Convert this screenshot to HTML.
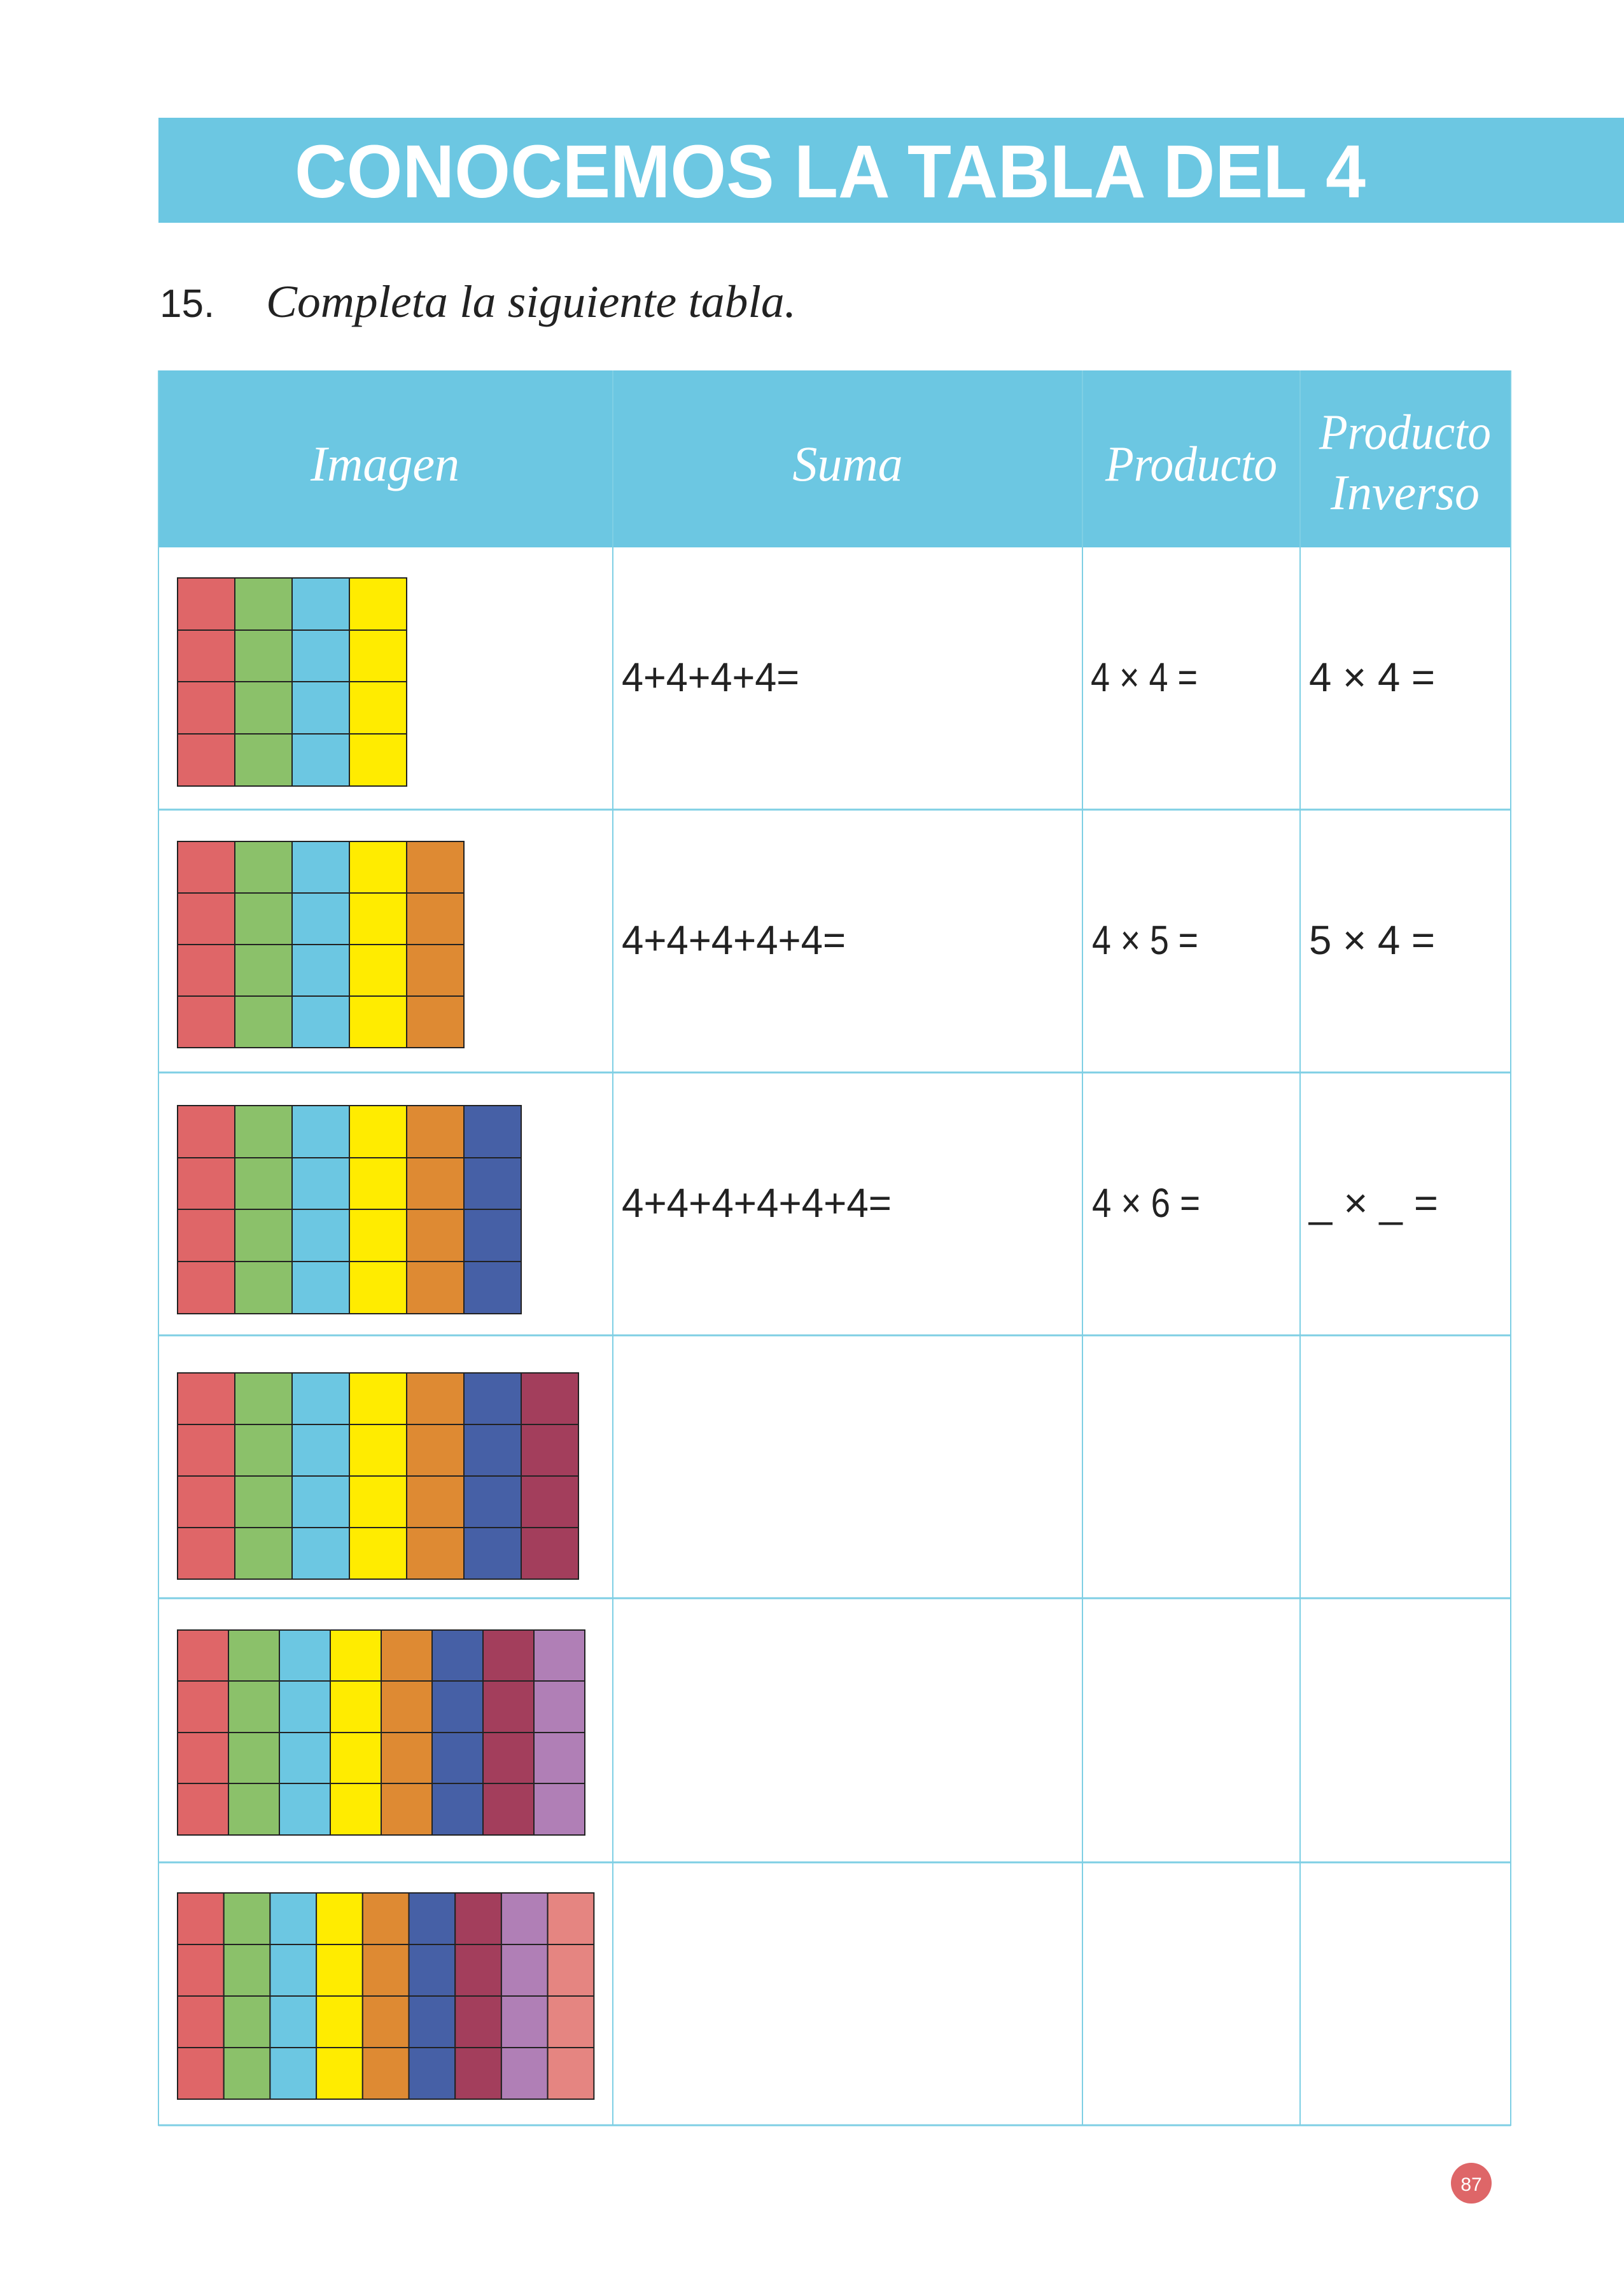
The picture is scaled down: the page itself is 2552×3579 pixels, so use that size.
<!DOCTYPE html>
<html><head><meta charset="utf-8"><style>html,body{margin:0;padding:0;background:#fff}svg{display:block}</style></head>
<body>
<svg xmlns="http://www.w3.org/2000/svg" width="2552" height="3579" viewBox="0 0 2552 3579">
<rect width="2552" height="3579" fill="#fff"/>
<rect x="249" y="185" width="2303" height="165" fill="#6cc7e2"/>
<text x="463" y="310" font-family="Liberation Sans, sans-serif" font-weight="bold" font-size="118" fill="#fff" textLength="1683" lengthAdjust="spacingAndGlyphs">CONOCEMOS LA TABLA DEL 4</text>
<text x="251" y="498" font-family="Liberation Sans, sans-serif" font-size="62" fill="#222">15.</text>
<text x="418" y="498" font-family="Liberation Serif, serif" font-style="italic" font-size="72" fill="#222" textLength="833" lengthAdjust="spacingAndGlyphs">Completa la siguiente tabla.</text>
<rect x="249" y="582" width="2125" height="278" fill="#6cc7e2"/>
<g font-family="Liberation Serif, serif" font-style="italic" font-size="78" fill="#fff" text-anchor="middle">
<text x="605" y="755">Imagen</text>
<text x="1332" y="755">Suma</text>
<text x="1872" y="755" textLength="270" lengthAdjust="spacingAndGlyphs">Producto</text>
<text x="2208" y="705" textLength="270" lengthAdjust="spacingAndGlyphs">Producto</text>
<text x="2208" y="800">Inverso</text>
</g>
<g stroke="#7fcfe4" fill="none">
<line x1="963" y1="582" x2="963" y2="3340" stroke-width="2"/>
<line x1="1701" y1="582" x2="1701" y2="3340" stroke-width="2"/>
<line x1="2043" y1="582" x2="2043" y2="3340" stroke-width="2"/>
<line x1="249" y1="582" x2="249" y2="3340" stroke-width="2"/>
<line x1="2374" y1="582" x2="2374" y2="3340" stroke-width="2"/>
<line x1="249" y1="1272" x2="2374" y2="1272" stroke-width="3"/>
<line x1="249" y1="1685" x2="2374" y2="1685" stroke-width="3"/>
<line x1="249" y1="2098" x2="2374" y2="2098" stroke-width="3"/>
<line x1="249" y1="2511" x2="2374" y2="2511" stroke-width="3"/>
<line x1="249" y1="2926" x2="2374" y2="2926" stroke-width="3"/>
<line x1="249" y1="3339" x2="2374" y2="3339" stroke-width="3"/>
</g>
<g font-family="Liberation Sans, sans-serif" font-size="64" fill="#222">
<text x="977" y="1086" textLength="279" lengthAdjust="spacingAndGlyphs">4+4+4+4=</text>
<text x="1714" y="1086" textLength="168" lengthAdjust="spacingAndGlyphs">4 × 4 =</text>
<text x="2057" y="1086" textLength="198" lengthAdjust="spacingAndGlyphs">4 × 4 =</text>
<text x="977" y="1499" textLength="352" lengthAdjust="spacingAndGlyphs">4+4+4+4+4=</text>
<text x="1716" y="1499" textLength="167" lengthAdjust="spacingAndGlyphs">4 × 5 =</text>
<text x="2057" y="1499" textLength="198" lengthAdjust="spacingAndGlyphs">5 × 4 =</text>
<text x="977" y="1912" textLength="424" lengthAdjust="spacingAndGlyphs">4+4+4+4+4+4=</text>
<text x="1716" y="1912" textLength="170" lengthAdjust="spacingAndGlyphs">4 × 6 =</text>
<text x="2057" y="1912" textLength="203" lengthAdjust="spacingAndGlyphs">_ × _ =</text>
</g>
<g stroke="#222" stroke-width="2">
<g transform="translate(279,908)">
<rect x="0" y="0" width="90" height="327" fill="#df6668"/><rect x="90" y="0" width="90" height="327" fill="#8bc16a"/><rect x="180" y="0" width="90" height="327" fill="#6cc7e2"/><rect x="270" y="0" width="90" height="327" fill="#ffec00"/>
<line x1="0" y1="82" x2="360" y2="82"/><line x1="0" y1="163" x2="360" y2="163"/><line x1="0" y1="245" x2="360" y2="245"/>
</g>
<g transform="translate(279,1322)">
<rect x="0" y="0" width="90" height="324" fill="#df6668"/><rect x="90" y="0" width="90" height="324" fill="#8bc16a"/><rect x="180" y="0" width="90" height="324" fill="#6cc7e2"/><rect x="270" y="0" width="90" height="324" fill="#ffec00"/><rect x="360" y="0" width="90" height="324" fill="#de8a33"/>
<line x1="0" y1="81" x2="450" y2="81"/><line x1="0" y1="162" x2="450" y2="162"/><line x1="0" y1="243" x2="450" y2="243"/>
</g>
<g transform="translate(279,1737)">
<rect x="0" y="0" width="90" height="327" fill="#df6668"/><rect x="90" y="0" width="90" height="327" fill="#8bc16a"/><rect x="180" y="0" width="90" height="327" fill="#6cc7e2"/><rect x="270" y="0" width="90" height="327" fill="#ffec00"/><rect x="360" y="0" width="90" height="327" fill="#de8a33"/><rect x="450" y="0" width="90" height="327" fill="#4660a6"/>
<line x1="0" y1="82" x2="540" y2="82"/><line x1="0" y1="163" x2="540" y2="163"/><line x1="0" y1="245" x2="540" y2="245"/>
</g>
<g transform="translate(279,2157)">
<rect x="0" y="0" width="90" height="324" fill="#df6668"/><rect x="90" y="0" width="90" height="324" fill="#8bc16a"/><rect x="180" y="0" width="90" height="324" fill="#6cc7e2"/><rect x="270" y="0" width="90" height="324" fill="#ffec00"/><rect x="360" y="0" width="90" height="324" fill="#de8a33"/><rect x="450" y="0" width="90" height="324" fill="#4660a6"/><rect x="540" y="0" width="90" height="324" fill="#a33e5c"/>
<line x1="0" y1="81" x2="630" y2="81"/><line x1="0" y1="162" x2="630" y2="162"/><line x1="0" y1="243" x2="630" y2="243"/>
</g>
<g transform="translate(279,2561)">
<rect x="0" y="0" width="80" height="322" fill="#df6668"/><rect x="80" y="0" width="80" height="322" fill="#8bc16a"/><rect x="160" y="0" width="80" height="322" fill="#6cc7e2"/><rect x="240" y="0" width="80" height="322" fill="#ffec00"/><rect x="320" y="0" width="80" height="322" fill="#de8a33"/><rect x="400" y="0" width="80" height="322" fill="#4660a6"/><rect x="480" y="0" width="80" height="322" fill="#a33e5c"/><rect x="560" y="0" width="80" height="322" fill="#b07fb6"/>
<line x1="0" y1="80" x2="640" y2="80"/><line x1="0" y1="161" x2="640" y2="161"/><line x1="0" y1="241" x2="640" y2="241"/>
</g>
<g transform="translate(279,2974)">
<rect x="0" y="0" width="72.7" height="324" fill="#df6668"/><rect x="72.7" y="0" width="72.7" height="324" fill="#8bc16a"/><rect x="145.4" y="0" width="72.7" height="324" fill="#6cc7e2"/><rect x="218.1" y="0" width="72.7" height="324" fill="#ffec00"/><rect x="290.8" y="0" width="72.7" height="324" fill="#de8a33"/><rect x="363.5" y="0" width="72.7" height="324" fill="#4660a6"/><rect x="436.2" y="0" width="72.7" height="324" fill="#a33e5c"/><rect x="508.9" y="0" width="72.7" height="324" fill="#b07fb6"/><rect x="581.6" y="0" width="72.7" height="324" fill="#e58581"/>
<line x1="0" y1="81" x2="654" y2="81"/><line x1="0" y1="162" x2="654" y2="162"/><line x1="0" y1="243" x2="654" y2="243"/>
</g>
</g>
<circle cx="2312" cy="3430" r="32" fill="#de6668"/>
<text x="2312" y="3442" font-family="Liberation Sans, sans-serif" font-size="30" fill="#fff" text-anchor="middle">87</text>
</svg>
</body></html>
